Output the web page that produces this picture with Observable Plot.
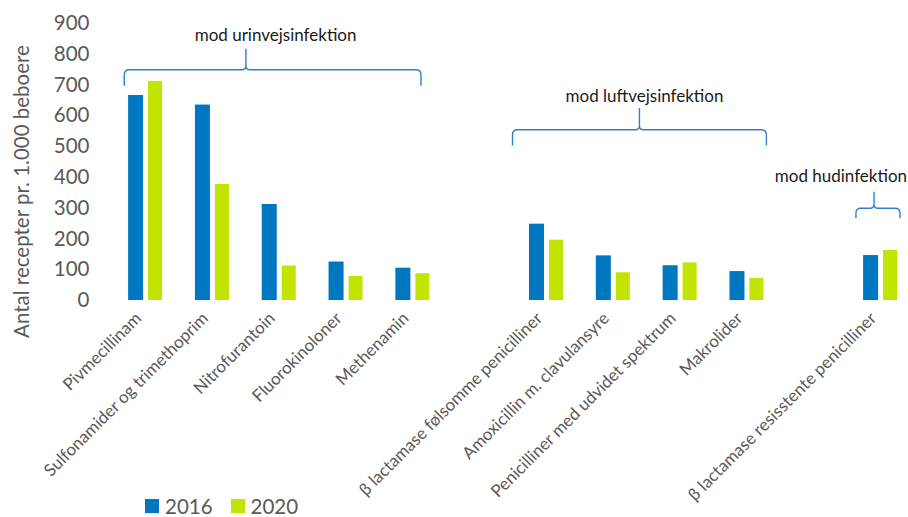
<!DOCTYPE html>
<html>
<head>
<meta charset="utf-8">
<script src="https://cdn.jsdelivr.net/npm/d3@7"></script>
<script src="https://cdn.jsdelivr.net/npm/@observablehq/plot@0.6"></script>
<style>
  html, body { margin: 0; padding: 0; background: white; overflow: hidden; }
  #legend { display: flex; align-items: center; height: 20px; line-height: 20px; margin-top: 0px; padding-left: 145px;
            font-family: Lato, sans-serif; font-size: 20.5px; color: #595959; }
  #legend .sw { width: 14px; height: 14px; display: inline-block; margin-right: 6px; }
  #legend .item { display: flex; align-items: center; margin-right: 18px; }
</style>
</head>
<body>
<div id="chart"></div>
<div id="legend"></div>
<script>
// ---- data ----
const categories = [
  "Pivmecillinam",
  "Sulfonamider og trimethoprim",
  "Nitrofurantoin",
  "Fluorokinoloner",
  "Methenamin",
  " ",
  "β lactamase følsomme penicilliner",
  "Amoxicillin m. clavulansyre",
  "Penicilliner med udvidet spektrum",
  "Makrolider",
  "  ",
  "β lactamase resisstente penicilliner"
];
const values2016 = [666, 635, 312, 125, 105, null, 248, 145, 113, 94, null, 146];
const values2020 = [712, 377, 112, 78, 87, null, 196, 90, 122, 72, null, 163];
const seriesNames = ["2016", "2020"];
const yTicks = [0, 100, 200, 300, 400, 500, 600, 700, 800, 900];
const yLabel = "Antal recepter pr. 1.000 beboere";

const groupLabels = ["mod urinvejsinfektion", "mod luftvejsinfektion", "mod hudinfektion"];
const groupFirst = ["Pivmecillinam", "β lactamase følsomme penicilliner", "β lactamase resisstente penicilliner"];
const groupLast = ["Methenamin", "Makrolider", "β lactamase resisstente penicilliner"];

// ---- layout / style (not data) ----
const colors = {"2016": "#0078C1", "2020": "#C2E400"};
const bracketLayout = [
  {start: 0.19, end: 0.63, cusp: 0.41, top: 748, tip: 696, peak: 816, label: 840, labelAt: 0.51, anchor: "middle"},
  {start: 0.0, end: 0.80, cusp: 0.50, top: 553, tip: 502, peak: 624, label: 642, labelAt: 0.52, anchor: "middle"},
  {start: 0.14, end: 0.80, cusp: 0.41, top: 298, tip: 266, peak: 352, label: 385, labelAt: 1.16, anchor: "end"}
];

const rows = [];
categories.forEach((c, i) => {
  if (values2016[i] != null) rows.push({cat: c, year: seriesNames[0], value: values2016[i]});
  if (values2020[i] != null) rows.push({cat: c, year: seriesNames[1], value: values2020[i]});
});

function annotations(index, scales) {
  const x = scales.x, y = scales.y;
  const step = x(categories[1]) - x(categories[0]);
  const g = d3.create("svg:g");
  groupLabels.forEach((lab, i) => {
    const L = bracketLayout[i];
    const x1 = x(groupFirst[i]) + L.start * step;
    const x2 = x(groupLast[i]) + L.end * step;
    const xc = x1 + (x2 - x1) * L.cusp;
    const yT = y(L.top), yB = y(L.tip), yP = y(L.peak);
    const r = 5;
    const p = `M${x1},${yB} L${x1},${yT + r} Q${x1},${yT} ${x1 + r},${yT} L${xc - 4},${yT} Q${xc},${yT} ${xc},${yT - 4} L${xc},${yP}`
      + ` M${xc},${yT - 4} Q${xc},${yT} ${xc + 4},${yT} L${x2 - r},${yT} Q${x2},${yT} ${x2},${yT + r} L${x2},${yB}`;
    g.append("path").attr("d", p).attr("fill", "none").attr("stroke", "#2F80C6").attr("stroke-width", 1.4);
    g.append("text")
      .attr("x", x1 + (x2 - x1) * L.labelAt)
      .attr("y", y(L.label))
      .attr("text-anchor", L.anchor)
      .attr("font-family", "Lato, sans-serif")
      .attr("font-size", 17)
      .attr("fill", "#1a1a1a")
      .text(lab);
  });
  // y-axis title
  const yc = (y(yTicks[0]) + y(yTicks[yTicks.length - 1])) / 2 + 30;
  const xl = x(categories[0]) - 90;
  g.append("text")
    .attr("transform", `translate(${xl},${yc}) rotate(-90)`)
    .attr("text-anchor", "middle")
    .attr("dy", "0.35em")
    .attr("font-family", "Lato, sans-serif")
    .attr("font-size", 20.5)
    .attr("fill", "#595959")
    .text(yLabel);
  return g.node();
}

const chart = Plot.plot({
  width: 908,
  height: 496,
  marginLeft: 112,
  marginRight: 0,
  marginTop: 23,
  marginBottom: 196,
  style: {fontFamily: "Lato, sans-serif", background: "white", overflow: "visible"},
  x: {domain: categories, range: [111.6, 913.4], paddingInner: 0, paddingOuter: 0, align: 0.5, round: false},
  y: {domain: [0, 900]},
  marks: [
    Plot.ruleY(yTicks, {stroke: "#D9D9D9", strokeWidth: 1.8, x1: categories[0], x2: categories[categories.length - 1], insetRight: -10}),
    Plot.barY(rows.filter(d => d.year === seriesNames[0]), {x: "cat", y: "value", fill: colors["2016"], insetLeft: 16.5, insetRight: 35.3}),
    Plot.barY(rows.filter(d => d.year === seriesNames[1]), {x: "cat", y: "value", fill: colors["2020"], insetLeft: 36.5, insetRight: 16.3}),
    Plot.axisY({ticks: yTicks, tickSize: 0, tickPadding: 23, fontSize: 20.5, color: "#595959", label: null}),
    Plot.axisX({tickSize: 0, tickRotate: -45, tickPadding: 15, dx: -7, fontSize: 17, color: "#595959", label: null, tickFormat: d => d.trim()}),
    annotations
  ]
});
document.getElementById("chart").appendChild(chart);

const legend = document.getElementById("legend");
seriesNames.forEach(s => {
  const item = document.createElement("div");
  item.className = "item";
  item.innerHTML = `<span class="sw" style="background:${colors[s]}"></span><span>${s}</span>`;
  legend.appendChild(item);
});
</script>
</body>
</html>
